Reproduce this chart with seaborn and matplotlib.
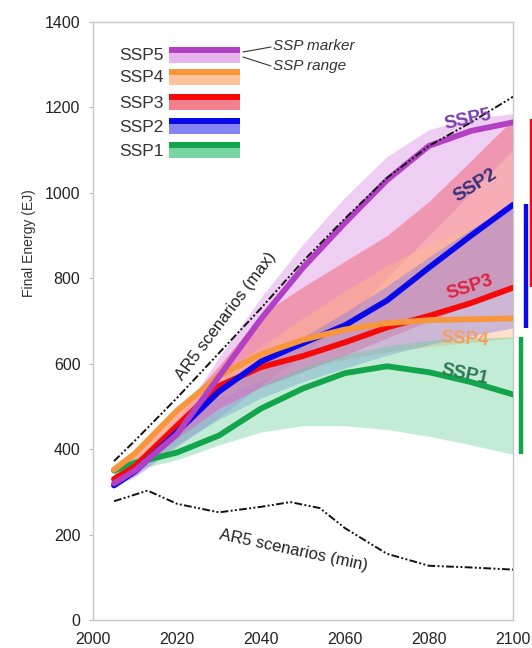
import numpy as np
import pandas as pd
import matplotlib
matplotlib.use("Agg")
import matplotlib.pyplot as plt
import seaborn as sns
from matplotlib.patches import Rectangle

# ---------------- data ----------------
years = [2005, 2010, 2020, 2030, 2040, 2050, 2060, 2070, 2080, 2090, 2100]

ssp1_marker = [350, 368, 392, 432, 495, 542, 578, 594, 580, 557, 528]
ssp2_marker = [315, 348, 440, 535, 605, 648, 690, 748, 825, 900, 972]
ssp3_marker = [330, 360, 455, 548, 592, 618, 650, 685, 712, 742, 778]
ssp4_marker = [352, 390, 490, 572, 622, 656, 680, 695, 702, 704, 706]
ssp5_marker = [320, 350, 435, 570, 705, 825, 930, 1030, 1110, 1145, 1165]

ssp1_lo = [340, 352, 375, 410, 440, 455, 455, 446, 430, 410, 388]
ssp1_hi = [356, 378, 432, 492, 548, 592, 622, 642, 655, 660, 663]
ssp2_lo = [312, 338, 410, 470, 520, 558, 590, 620, 645, 665, 684]
ssp2_hi = [332, 362, 452, 540, 610, 662, 720, 782, 850, 915, 975]
ssp3_lo = [322, 348, 425, 495, 545, 582, 620, 660, 700, 740, 780]
ssp3_hi = [362, 395, 485, 595, 715, 780, 840, 900, 980, 1075, 1172]
ssp4_lo = [338, 370, 455, 520, 560, 590, 610, 628, 640, 650, 660]
ssp4_hi = [362, 398, 488, 572, 640, 708, 770, 830, 880, 920, 950]
ssp5_lo = [312, 335, 405, 475, 550, 620, 700, 800, 900, 1000, 1100]
ssp5_hi = [342, 372, 465, 615, 755, 880, 990, 1085, 1148, 1175, 1185]

ar5_max_years = [2005, 2010, 2020, 2030, 2040, 2050, 2060, 2070, 2080, 2090, 2100]
ar5_max = [372, 420, 520, 625, 730, 840, 940, 1035, 1110, 1165, 1225]
ar5_min_years = [2005, 2013, 2020, 2030, 2040, 2047, 2054, 2060, 2070, 2080, 2090, 2100]
ar5_min = [278, 303, 272, 252, 265, 276, 262, 215, 155, 127, 123, 118]

ssp_names = ["SSP5", "SSP4", "SSP3", "SSP2", "SSP1"]
x_ticks = [2000, 2020, 2040, 2060, 2080, 2100]
y_ticks = [0, 200, 400, 600, 800, 1000, 1200, 1400]

marker_colors = {"SSP1": "#13a54b", "SSP2": "#0a0ae8", "SSP3": "#f50a0a",
                 "SSP4": "#f7963c", "SSP5": "#b23fc4"}
range_colors = {"SSP1": "#5fcf93", "SSP2": "#6f6ff2", "SSP3": "#f06a7a",
                "SSP4": "#ffb98a", "SSP5": "#e2a6ea"}
label_colors = {"SSP1": "#2b7a55", "SSP2": "#33337a", "SSP3": "#e0203f",
                "SSP4": "#f2a060", "SSP5": "#7a3fae"}

markers = {"SSP1": ssp1_marker, "SSP2": ssp2_marker, "SSP3": ssp3_marker,
           "SSP4": ssp4_marker, "SSP5": ssp5_marker}
ranges = {"SSP1": (ssp1_lo, ssp1_hi), "SSP2": (ssp2_lo, ssp2_hi),
          "SSP3": (ssp3_lo, ssp3_hi), "SSP4": (ssp4_lo, ssp4_hi),
          "SSP5": (ssp5_lo, ssp5_hi)}

# ---------------- style ----------------
sns.set_style("white")
plt.rcParams["font.family"] = ["Liberation Sans", "DejaVu Sans"]

fig = plt.figure(figsize=(5.32, 6.48), dpi=100)
ax = fig.add_axes([93 / 532, 1 - 620 / 648, 420 / 532, 598 / 648])

# ranges (bands)
band_order = ["SSP5", "SSP3", "SSP4", "SSP2", "SSP1"]
band_alpha = {"SSP5": 0.55, "SSP3": 0.55, "SSP4": 0.45, "SSP2": 0.35, "SSP1": 0.38}
for s in band_order:
    lo, hi = ranges[s]
    ax.fill_between(years, lo, hi, color=range_colors[s], alpha=band_alpha[s],
                    linewidth=0, zorder=1)

# marker lines via seaborn
df = pd.DataFrame({
    "year": years * 5,
    "energy": ssp1_marker + ssp2_marker + ssp3_marker + ssp4_marker + ssp5_marker,
    "ssp": sum([[s] * len(years) for s in ["SSP1", "SSP2", "SSP3", "SSP4", "SSP5"]], []),
})
sns.lineplot(data=df, x="year", y="energy", hue="ssp",
             hue_order=["SSP1", "SSP3", "SSP2", "SSP4", "SSP5"],
             palette=marker_colors, linewidth=4.2, ax=ax, legend=False,
             zorder=3)

# AR5 envelope lines
ax.plot(ar5_max_years, ar5_max, color="#111111", lw=1.4,
        dashes=[4, 1.2, 1, 1.2, 1, 1.2], zorder=4)
ax.plot(ar5_min_years, ar5_min, color="#111111", lw=1.4,
        dashes=[4, 1.2, 1, 1.2, 1, 1.2], zorder=4)

# right-hand range bars at 2100
bar_x = {"SSP1": 2101.9, "SSP2": 2103.1, "SSP3": 2104.6}
for s in ["SSP1", "SSP2", "SSP3"]:
    lo, hi = ranges[s]
    ax.plot([bar_x[s], bar_x[s]], [lo[-1], hi[-1]], color=marker_colors[s],
            lw=3.2, solid_capstyle="butt", clip_on=False, zorder=5)

# axes
ax.set_xlim(2000, 2100)
ax.set_ylim(0, 1400)
ax.set_xticks(x_ticks)
ax.set_yticks(y_ticks)
ax.tick_params(axis="y", length=3, width=0.8, color="#bbbbbb", labelsize=11.5,
               labelcolor="#222222", left=True, pad=6)
ax.tick_params(axis="x", length=0, labelsize=11.5, labelcolor="#222222", pad=9)
for sp in ax.spines.values():
    sp.set_color("#c8c8c8")
    sp.set_linewidth(1.0)
ax.set_xlabel("")
ax.set_ylabel("Final Energy (EJ)", fontsize=10, color="#333333")

def yf(p):
    return (620 - p) / 598

def xf(p):
    return (p - 93) / 420

ax.yaxis.set_label_coords(xf(36), yf(243))

# custom legend
row_tops = [47, 69, 94, 118, 142]
for s, top in zip(ssp_names, row_tops):
    ax.add_patch(Rectangle((xf(169), yf(top + 16)), xf(240) - xf(169), yf(top + 6) - yf(top + 16),
                           transform=ax.transAxes, color=range_colors[s], alpha=0.85,
                           lw=0, zorder=6))
    ax.add_patch(Rectangle((xf(169), yf(top + 6)), xf(240) - xf(169), yf(top) - yf(top + 6),
                           transform=ax.transAxes, color=marker_colors[s],
                           lw=0, zorder=6))
    ax.text(xf(164), yf(top + 9), s, transform=ax.transAxes, ha="right", va="center",
            fontsize=12.5, color="#333333", zorder=6)

ax.plot([xf(243), xf(271)], [yf(52), yf(47)], transform=ax.transAxes,
        color="#333333", lw=0.8, zorder=6)
ax.plot([xf(243), xf(271)], [yf(57), yf(66)], transform=ax.transAxes,
        color="#333333", lw=0.8, zorder=6)
ax.text(xf(273), yf(46), "SSP marker", transform=ax.transAxes, ha="left", va="center",
        fontsize=11, style="italic", color="#333333")
ax.text(xf(273), yf(66), "SSP range", transform=ax.transAxes, ha="left", va="center",
        fontsize=11, style="italic", color="#333333")

# in-plot labels
labels = [("SSP5", 468, 120, 12), ("SSP2", 475, 185, 32), ("SSP3", 470, 287, 18),
          ("SSP4", 465, 339, -4), ("SSP1", 465, 375, -12)]
for s, px, py, rot in labels:
    ax.text(xf(px), yf(py), s, transform=ax.transAxes, ha="center", va="center",
            fontsize=13.5, fontweight="bold", color=label_colors[s], rotation=rot,
            zorder=7)

ax.text(xf(226), yf(316), "AR5 scenarios (max)", transform=ax.transAxes,
        ha="center", va="center", fontsize=12, rotation=53, color="#222222", zorder=7)
ax.text(xf(294), yf(550), "AR5 scenarios (min)", transform=ax.transAxes,
        ha="center", va="center", fontsize=12, rotation=-12, color="#222222", zorder=7)

fig.savefig("out.png", dpi=100)
